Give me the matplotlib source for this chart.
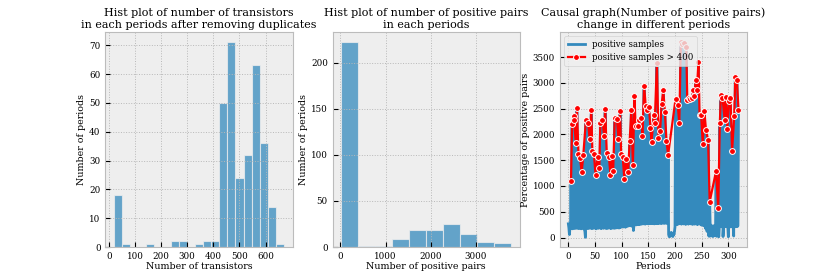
import numpy as np
import matplotlib
matplotlib.use("Agg")
import matplotlib.pyplot as plt

# hist 1: number of transistors per period (21 bins)
trans_min, trans_max = 19, 671
trans_counts = [18, 1, 0, 0, 1, 0, 0, 2, 2, 0, 1, 2, 2, 50, 71, 24, 32, 63, 36, 14, 1]

# hist 2: number of positive pairs per period (10 bins)
pairs_min, pairs_max = 15, 3790
pairs_counts = [222, 1, 1, 9, 19, 18, 25, 14, 5, 4]

# number of positive pairs in each period (0..319)
pairs = [
    267, 190, 58, 180, 195, 1093, 185, 2199, 170, 190,
    2362, 2270, 175, 200, 1828, 185, 2511, 180, 190, 1620,
    175, 195, 1542, 185, 170, 1269, 200, 180, 1594, 190,
    160, 120, 5, 2284, 185, 195, 175, 2219, 190, 180,
    1913, 200, 185, 2466, 175, 1679, 190, 180, 1613, 195,
    185, 1217, 170, 190, 200, 1568, 180, 185, 1340, 195,
    2219, 175, 190, 185, 2284, 200, 180, 1965, 190, 2498,
    185, 175, 1646, 195, 180, 190, 1568, 200, 185, 1217,
    175, 190, 1581, 185, 1288, 200, 180, 2323, 195, 185,
    205, 2297, 190, 210, 1919, 185, 200, 2459, 195, 1613,
    210, 220, 1555, 205, 215, 1132, 225, 200, 1516, 230,
    215, 240, 1262, 225, 235, 1874, 245, 230, 2466, 220,
    240, 1399, 137, 235, 2739, 250, 2167, 245, 260, 255,
    2167, 250, 265, 2271, 255, 270, 2316, 260, 275, 1978,
    265, 270, 2947, 280, 260, 2557, 275, 270, 2479, 285,
    265, 2531, 280, 270, 2128, 275, 1854, 285, 270, 280,
    2368, 265, 2219, 290, 275, 280, 3390, 270, 285, 1926,
    275, 290, 2069, 280, 270, 2589, 295, 280, 2856, 285,
    275, 2427, 290, 280, 1880, 295, 270, 1600, 60, 20,
    15, 40, 90, 100, 70, 30, 20, 85, 60, 120,
    210, 2687, 260, 275, 250, 2576, 280, 265, 2219, 270,
    285, 3793, 260, 275, 3747, 280, 265, 3780, 290, 270,
    255, 3689, 275, 2674, 280, 260, 2700, 285, 270, 2693,
    265, 280, 2700, 255, 2856, 275, 2739, 260, 280, 3064,
    270, 2869, 250, 265, 3409, 275, 2381, 260, 255, 2381,
    240, 260, 1815, 250, 230, 2453, 245, 180, 2088, 235,
    120, 250, 1893, 40, 25, 696, 180, 30, 240, 60,
    210, 20, 150, 230, 35, 190, 220, 1288, 25, 210,
    60, 566, 15, 200, 2219, 220, 2759, 210, 225, 2713,
    20, 215, 205, 2284, 225, 2719, 210, 230, 2101, 215,
    15, 2641, 220, 205, 2713, 225, 210, 1679, 220, 215,
    30, 2362, 225, 3110, 210, 220, 3051, 215, 230, 2479,
]
periods = np.arange(len(pairs))

plt.style.use("bmh")
plt.rcParams["font.family"] = "DejaVu Serif"
plt.rcParams["axes.titlesize"] = 8
plt.rcParams["axes.labelsize"] = 6.8
plt.rcParams["xtick.labelsize"] = 6.3
plt.rcParams["ytick.labelsize"] = 6.3
plt.rcParams["grid.linestyle"] = ":"
plt.rcParams["grid.color"] = "#b8b8b8"
plt.rcParams["grid.linewidth"] = 0.7

fig, axes = plt.subplots(1, 3, figsize=(8.3, 2.77), dpi=100)
fig.subplots_adjust(left=0.127, right=0.9, top=0.884, bottom=0.108, wspace=0.214)

hist_color = "#348ABD"

# transistors hist
ax = axes[0]
edges = np.linspace(trans_min, trans_max, len(trans_counts) + 1)
ax.bar(edges[:-1], trans_counts, width=np.diff(edges), align="edge",
       color=hist_color, alpha=0.75, edgecolor="#eeeeee", linewidth=0.8)
ax.set_title("Hist plot of number of transistors\nin each periods after removing duplicates", pad=3)
ax.set_xlabel("Number of transistors", labelpad=1)
ax.set_ylabel("Number of periods", labelpad=2)
ax.set_xticks(range(0, 700, 100))

# positive pairs hist
ax = axes[1]
edges = np.linspace(pairs_min, pairs_max, len(pairs_counts) + 1)
ax.bar(edges[:-1], pairs_counts, width=np.diff(edges), align="edge",
       color=hist_color, alpha=0.75, edgecolor="#eeeeee", linewidth=0.8)
ax.set_title("Hist plot of number of positive pairs\nin each periods", pad=3)
ax.set_xlabel("Number of positive pairs", labelpad=1)
ax.set_ylabel("Number of periods", labelpad=2)
ax.set_xticks([0, 1000, 2000, 3000])

# causal graph over periods
ax = axes[2]
pairs_arr = np.array(pairs)
big = pairs_arr > 400
ax.plot(periods, pairs_arr, color="#348ABD", linewidth=2, label="positive samples")
ax.plot(periods[big], pairs_arr[big], color="red", linewidth=1.6, marker="o",
        markersize=4.2, markeredgecolor="white", markeredgewidth=0.7,
        label="positive samples > 400")
ax.set_title("Causal graph(Number of positive pairs)\nchange in different periods", pad=3)
ax.set_xlabel("Periods", labelpad=1)
ax.set_ylabel("Percentage of positive pairs", labelpad=2)
ax.set_xticks(range(0, 350, 50))
ax.set_yticks(range(0, 4000, 500))
ax.legend(loc="upper left", fontsize=6.2)

plt.savefig("out.png", dpi=100)
